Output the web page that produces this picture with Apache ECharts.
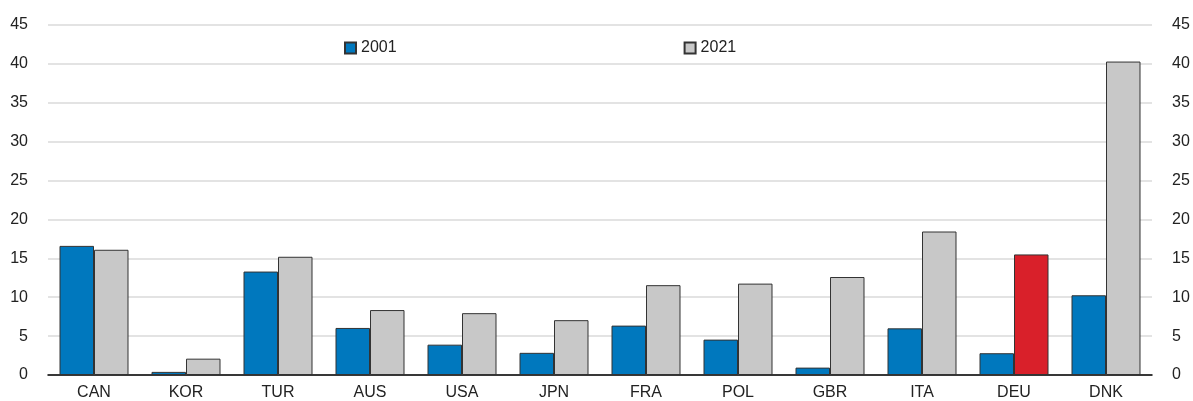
<!DOCTYPE html>
<html><head><meta charset="utf-8">
<script src="https://cdn.jsdelivr.net/npm/echarts@6/dist/echarts.min.js"></script>
<style>html,body{margin:0;padding:0;background:#fff}#c{width:1193px;height:401px}</style>
</head><body><div id="c"></div>
<script>
const categories = ['CAN','KOR','TUR','AUS','USA','JPN','FRA','POL','GBR','ITA','DEU','DNK'];
const values2001 = [16.6, 0.4, 13.3, 6.05, 3.9, 2.85, 6.35, 4.55, 0.95, 6.0, 2.8, 10.25];
const values2021 = [16.1, 2.1, 15.2, 8.35, 7.95, 7.05, 11.55, 11.75, 12.6, 18.45, 15.5, 40.3];
const highlightCategory = 'DEU';
const yTicks = {min: 0, max: 45, interval: 5};

const BLUE = '#0078be', GRAY = '#c8c8c8', RED = '#d9202a', EDGE = '#333333';
const font = 'Liberation Sans, Arial, sans-serif';

const chart = echarts.init(document.getElementById('c'), null, {renderer: 'canvas'});
const yAxisCommon = {
  type: 'value', min: yTicks.min, max: yTicks.max, interval: yTicks.interval,
  axisLine: {show: false}, axisTick: {show: false},
  axisLabel: {color: '#222', fontSize: 16, fontFamily: font, margin: 20},
};
chart.setOption({
  animation: false,
  grid: {left: 48, right: 41, top: 25, bottom: 25, containLabel: false},
  legend: {
    left: 339, top: 35, itemWidth: 11, itemHeight: 11, itemGap: 287,
    textStyle: {fontSize: 16, fontFamily: font, color: '#222'},
    data: [{name: '2001', icon: 'rect'}, {name: '2021', icon: 'rect'}]
  },
  xAxis: {
    type: 'category', data: categories,
    axisLine: {lineStyle: {color: '#000', width: 1.5}},
    axisTick: {inside: true, length: 5, lineStyle: {color: '#000', width: 1.5}},
    axisLabel: {color: '#222', fontSize: 16, fontFamily: font, margin: 10}
  },
  yAxis: [
    Object.assign({}, yAxisCommon, {position: 'left', splitLine: {lineStyle: {color: '#dadada', width: 1.5}}}),
    Object.assign({}, yAxisCommon, {position: 'right', splitLine: {show: false}})
  ],
  series: [
    {name: '2001', type: 'bar', data: values2001, barWidth: 34.5, barGap: '0%',
     itemStyle: {color: BLUE, borderColor: EDGE, borderWidth: 1}},
    {name: '2021', type: 'bar', data: values2021.map((v, i) => categories[i] === highlightCategory
        ? {value: v, itemStyle: {color: RED}} : v),
     barWidth: 34.5, barGap: '0%',
     itemStyle: {color: GRAY, borderColor: EDGE, borderWidth: 1}}
  ]
});
</script></body></html>
